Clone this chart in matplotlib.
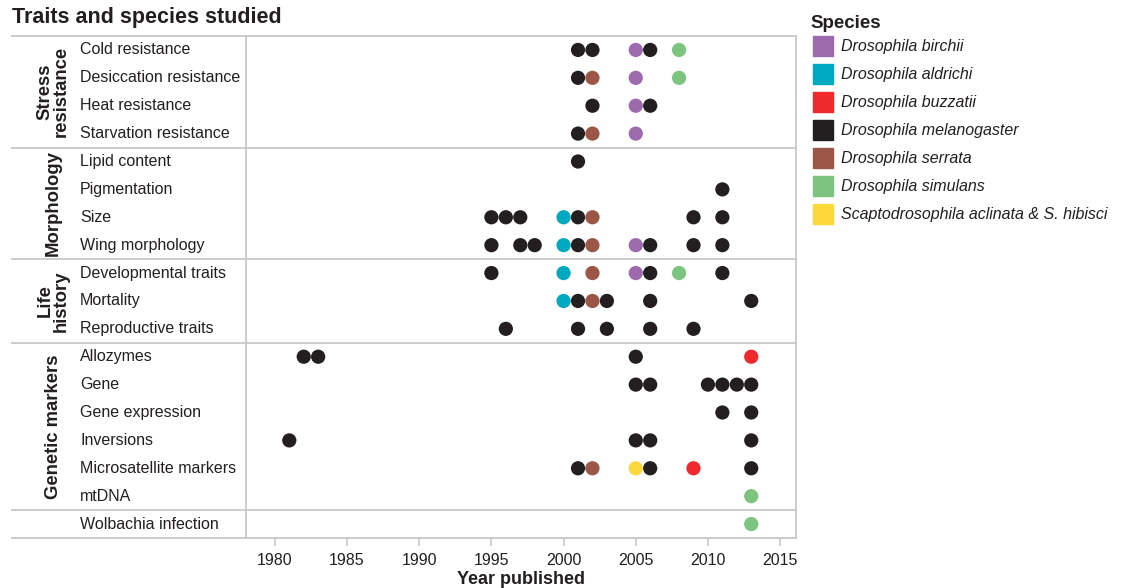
import matplotlib
matplotlib.use("Agg")
import matplotlib.pyplot as plt
from matplotlib.patches import Rectangle

plt.rcParams['font.family'] = ['Liberation Sans', 'DejaVu Sans']

# Rows (top to bottom) and the group each belongs to
traits = ["Cold resistance", "Desiccation resistance", "Heat resistance",
          "Starvation resistance", "Lipid content", "Pigmentation", "Size",
          "Wing morphology", "Developmental traits", "Mortality",
          "Reproductive traits", "Allozymes", "Gene", "Gene expression",
          "Inversions", "Microsatellite markers", "mtDNA", "Wolbachia infection"]
groups = ["Stress\nresistance", "Morphology", "Life\nhistory", "Genetic markers", ""]
group_sizes = [4, 4, 3, 6, 1]

species = ["Drosophila birchii", "Drosophila aldrichi", "Drosophila buzzatii",
           "Drosophila melanogaster", "Drosophila serrata", "Drosophila simulans",
           "Scaptodrosophila aclinata & S. hibisci"]
colors = ["#9d6aae", "#00a9c2", "#ee2a2f", "#231f20", "#9b5646", "#7cc47f", "#fdd83a"]

# (trait, year) studies per species
birchii = [("Cold resistance", 2005), ("Desiccation resistance", 2005),
           ("Heat resistance", 2005), ("Starvation resistance", 2005),
           ("Wing morphology", 2005), ("Developmental traits", 2005)]
aldrichi = [("Size", 2000), ("Wing morphology", 2000),
            ("Developmental traits", 2000), ("Mortality", 2000)]
buzzatii = [("Allozymes", 2013), ("Microsatellite markers", 2009)]
melanogaster = [("Cold resistance", 2001), ("Cold resistance", 2002), ("Cold resistance", 2006),
                ("Desiccation resistance", 2001),
                ("Heat resistance", 2002), ("Heat resistance", 2006),
                ("Starvation resistance", 2001),
                ("Lipid content", 2001),
                ("Pigmentation", 2011),
                ("Size", 1995), ("Size", 1996), ("Size", 1997), ("Size", 2001),
                ("Size", 2009), ("Size", 2011),
                ("Wing morphology", 1995), ("Wing morphology", 1997), ("Wing morphology", 1998),
                ("Wing morphology", 2001), ("Wing morphology", 2006), ("Wing morphology", 2009),
                ("Wing morphology", 2011),
                ("Developmental traits", 1995), ("Developmental traits", 2006),
                ("Developmental traits", 2011),
                ("Mortality", 2001), ("Mortality", 2003), ("Mortality", 2006), ("Mortality", 2013),
                ("Reproductive traits", 1996), ("Reproductive traits", 2001),
                ("Reproductive traits", 2003), ("Reproductive traits", 2006),
                ("Reproductive traits", 2009),
                ("Allozymes", 1982), ("Allozymes", 1983), ("Allozymes", 2005),
                ("Gene", 2005), ("Gene", 2006), ("Gene", 2010), ("Gene", 2011),
                ("Gene", 2012), ("Gene", 2013),
                ("Gene expression", 2011), ("Gene expression", 2013),
                ("Inversions", 1981), ("Inversions", 2005), ("Inversions", 2006),
                ("Inversions", 2013),
                ("Microsatellite markers", 2001), ("Microsatellite markers", 2006),
                ("Microsatellite markers", 2013)]
serrata = [("Desiccation resistance", 2002), ("Starvation resistance", 2002),
           ("Size", 2002), ("Wing morphology", 2002), ("Developmental traits", 2002),
           ("Mortality", 2002), ("Microsatellite markers", 2002)]
simulans = [("Cold resistance", 2008), ("Desiccation resistance", 2008),
            ("Developmental traits", 2008), ("mtDNA", 2013), ("Wolbachia infection", 2013)]
scapto = [("Microsatellite markers", 2005)]

species_points = [birchii, aldrichi, buzzatii, melanogaster, serrata, simulans, scapto]
year_ticks = [1980, 1985, 1990, 1995, 2000, 2005, 2010, 2015]

W, H = 1122, 588
GRID = "#c8c8c8"
TEXT = "#231f20"


def main():
    fig = plt.figure(figsize=(W / 100, H / 100), dpi=100)
    left, right, top, bottom = 246, 796, 36, 538
    ax = fig.add_axes([left / W, 1 - bottom / H, (right - left) / W, (bottom - top) / H])

    n = len(traits)
    ax.set_xlim(1978, 2016.1)
    ax.set_ylim(n, 0)

    row_of = {t: i + 0.5 for i, t in enumerate(traits)}
    for pts, col in zip(species_points, colors):
        xs = [p[1] for p in pts]
        ys = [row_of[p[0]] for p in pts]
        ax.scatter(xs, ys, s=105, color=col, edgecolors='none', zorder=3)

    for side in ax.spines.values():
        side.set_color(GRID)
        side.set_linewidth(1.3)
    ax.spines['top'].set_visible(False)
    ax.spines['bottom'].set_visible(False)

    ax.set_yticks([])
    ax.set_xticks(year_ticks)
    ax.tick_params(axis='x', length=6, color=GRID, width=1.2, labelsize=11.5,
                   labelcolor=TEXT, pad=5)
    ax.set_xlabel("Year published", fontsize=13, fontweight='bold', color=TEXT, labelpad=2)

    # Group separators run across the label panel too
    x0 = (12 - left) / (right - left)
    ytr = ax.get_yaxis_transform()
    edges = [0]
    for g in group_sizes:
        edges.append(edges[-1] + g)
    for e in edges:
        ax.plot([x0, 1], [e, e], transform=ytr, color=GRID, lw=1.3, clip_on=False, zorder=1)

    # Row labels
    xlab = (80 - left) / (right - left)
    for i, t in enumerate(traits):
        ax.text(xlab, i + 0.5, t, transform=ytr, ha='left', va='center',
                fontsize=11.5, color=TEXT)

    # Group labels
    xg = (53 - left) / (right - left)
    for g, a, b in zip(groups, edges[:-1], edges[1:]):
        if g:
            ax.text(xg, (a + b) / 2, g, transform=ytr, rotation=90, ha='center',
                    va='center', fontsize=13.3, fontweight='bold', color=TEXT,
                    linespacing=0.95)

    fig.text(12 / W, 1 - 18 / H, "Traits and species studied", fontsize=15.5,
             fontweight='bold', color=TEXT, ha='left', va='center')

    # Legend
    fig.text(810 / W, 1 - 24 / H, "Species", fontsize=13.5, fontweight='bold',
             color=TEXT, ha='left', va='center')
    for k, (name, col) in enumerate(zip(species, colors)):
        yc = 46 + k * 28
        fig.patches.append(Rectangle((813 / W, 1 - (yc + 10) / H), 20 / W, 20 / H,
                                     transform=fig.transFigure, color=col))
        fig.text(841 / W, 1 - yc / H, name, fontsize=11.5, style='italic',
                 color=TEXT, ha='left', va='center')

    fig.savefig("out.png", dpi=100)


if __name__ == '__main__':
    main()
